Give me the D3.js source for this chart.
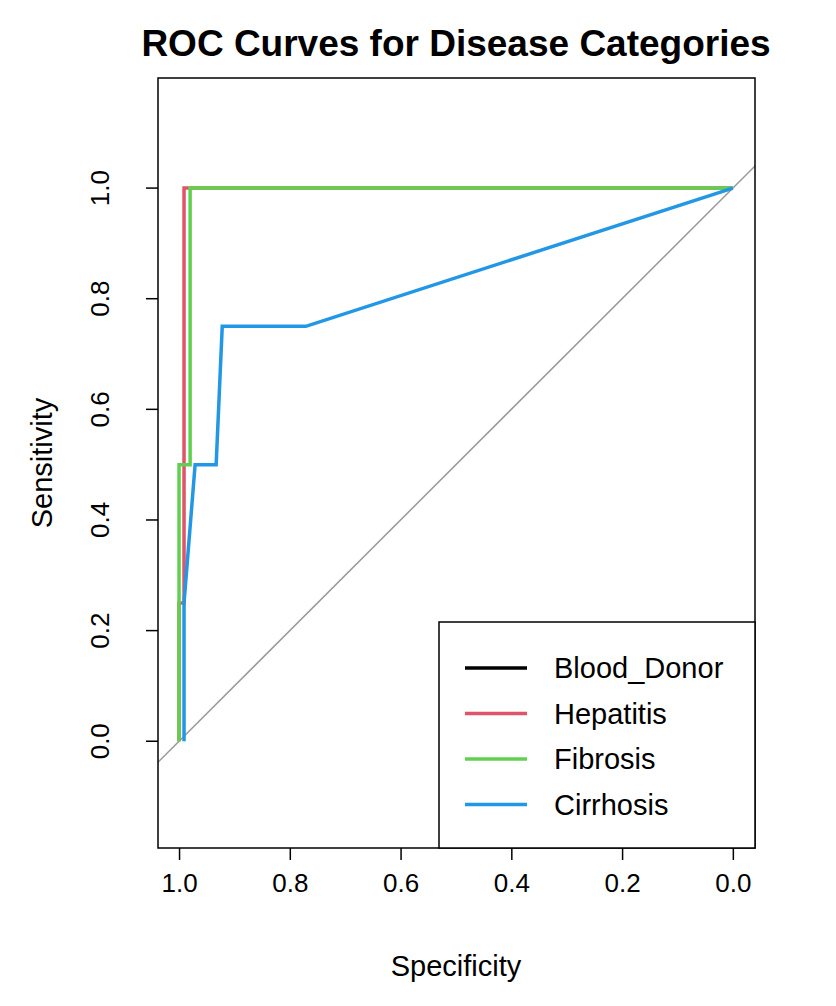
<!DOCTYPE html><html><head><script src="https://cdn.jsdelivr.net/npm/d3@7"></script>
<style>body{margin:0;background:#fff}text{font-family:"Liberation Sans",Arial,sans-serif}</style></head><body>
<svg id="c" width="836" height="1006"></svg>
<script>
const series=["Blood_Donor","Hepatitis","Fibrosis","Cirrhosis"];
const colors=["#000000","#DF536B","#61D04F","#2297E6"];
const bloodDonor=[];
const hepatitis=[[1,0],[1,0.25],[0.991,0.25],[0.991,1],[0,1]];
const fibrosis=[[1,0],[1,0.5],[0.98,0.5],[0.98,1],[0,1]];
const cirrhosis=[[0.991,0],[0.991,0.25],[0.971,0.5],[0.933,0.5],[0.922,0.75],[0.771,0.75],[0,1]];
const ticks=[1.0,0.8,0.6,0.4,0.2,0.0];
const data=[bloodDonor,hepatitis,fibrosis,cirrhosis];
const svg=d3.select("#c");
const L=158,R=755,T=78,B=848;
const x=d3.scaleLinear().domain([1.038,-0.04]).range([L,R]);
const y=d3.scaleLinear().domain([-0.193,1.199]).range([B,T]);
svg.append("clipPath").attr("id","cp").append("rect").attr("x",L).attr("y",T).attr("width",R-L).attr("height",B-T);
const g=svg.append("g").attr("clip-path","url(#cp)");
g.append("line").attr("x1",x(1.2)).attr("y1",y(-0.2)).attr("x2",x(-0.2)).attr("y2",y(1.2)).attr("stroke","#999").attr("stroke-width",1.5);
const line=d3.line().x(d=>x(d[0])).y(d=>y(d[1]));
data.forEach((d,i)=>{if(d.length)g.append("path").attr("d",line(d)).attr("fill","none").attr("stroke",colors[i]).attr("stroke-width",3.5);});
svg.append("rect").attr("x",L).attr("y",T).attr("width",R-L).attr("height",B-T).attr("fill","none").attr("stroke","#000").attr("stroke-width",1.5);
const xa=svg.append("g").attr("transform",`translate(0,${B})`).call(d3.axisBottom(x).tickValues(ticks).tickFormat(d3.format(".1f")).tickSize(12).tickPadding(14));
const ya=svg.append("g").attr("transform",`translate(${L},0)`).call(d3.axisLeft(y).tickValues(ticks).tickFormat(d3.format(".1f")).tickSize(12).tickPadding(8));
[xa,ya].forEach(a=>{a.select(".domain").remove();a.selectAll("line").attr("stroke-width",1.5);a.selectAll("text").attr("font-size",26).attr("fill","#000");});
ya.selectAll("text").attr("text-anchor","middle").attr("transform",function(d){return `translate(${-58},${y(d)}) rotate(-90)`;}).attr("x",0).attr("y",0).attr("dy","0.35em");
ya.selectAll(".tick").attr("transform",null);
ya.selectAll(".tick line").attr("transform",d=>`translate(0,${y(d)})`);
svg.append("text").attr("x",456).attr("y",56).attr("text-anchor","middle").attr("font-size",37).attr("font-weight","bold").text("ROC Curves for Disease Categories");
svg.append("text").attr("x",456).attr("y",976).attr("text-anchor","middle").attr("font-size",29).text("Specificity");
svg.append("text").attr("transform","translate(52,463) rotate(-90)").attr("text-anchor","middle").attr("font-size",29).text("Sensitivity");
const lg=svg.append("g");
lg.append("rect").attr("x",439).attr("y",622).attr("width",R-439).attr("height",B-622).attr("fill","#fff").attr("stroke","#000").attr("stroke-width",1.5);
series.forEach((s,i)=>{const yy=668+i*45.5;
lg.append("line").attr("x1",465).attr("x2",527).attr("y1",yy).attr("y2",yy).attr("stroke",colors[i]).attr("stroke-width",3.5);
lg.append("text").attr("x",554).attr("y",yy).attr("dy","0.35em").attr("font-size",29).text(s);});
</script></body></html>
